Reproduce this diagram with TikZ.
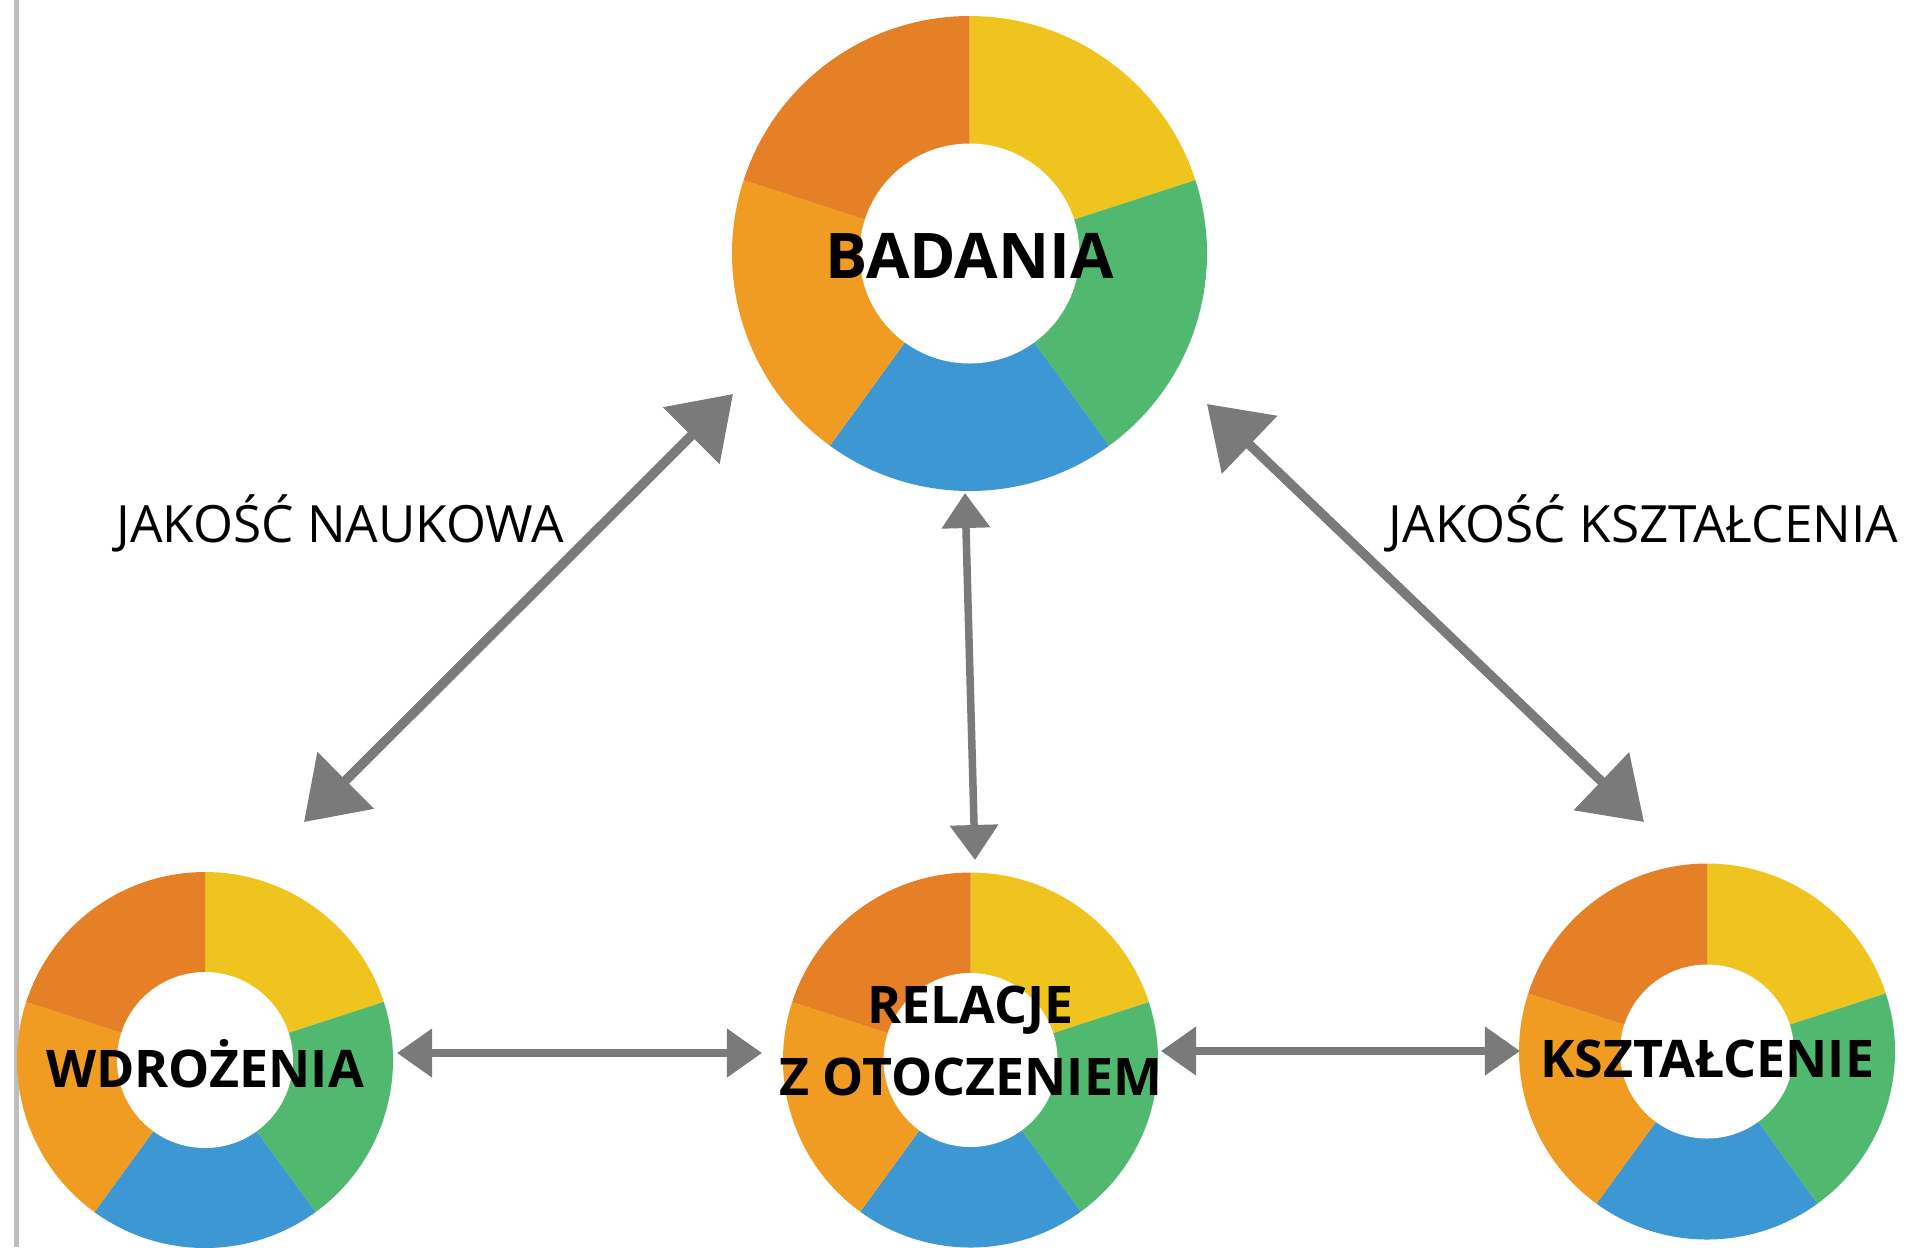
\documentclass[tikz,border=0pt]{standalone}
\usepackage{fontspec}
\setmainfont{Open Sans}
\usepackage{tikz}
\usetikzlibrary{arrows.meta}
\definecolor{segyellow}{RGB}{240,196,30}
\definecolor{seggreen}{RGB}{81,185,111}
\definecolor{segblue}{RGB}{60,151,210}
\definecolor{segorange}{RGB}{240,156,34}
\definecolor{segdark}{RGB}{230,128,38}
\definecolor{arrowgray}{RGB}{122,122,122}
\definecolor{railgray}{RGB}{190,190,190}

% ring of five equal sectors: centre, outer radius, inner radius
\newcommand{\donut}[3]{%
  \foreach \col [count=\i from 0] in {segyellow,seggreen,segblue,segorange,segdark}
    \fill[\col] #1 -- ++({90-72*\i}:#2) arc[start angle={90-72*\i},delta angle=-72,radius=#2] -- cycle;
  \fill[white] #1 circle[radius=#3];
}

\begin{document}
\begin{tikzpicture}[x=0.01cm,y=0.01cm,
    hubtxt/.style={font=\fontsize{14.75}{20.5}\selectfont\bfseries,align=center,inner sep=0},
    sidetxt/.style={font=\fontsize{14.6}{18}\selectfont,anchor=base,inner sep=0},
    biarrow/.style={arrowgray,line width=0.075cm,{Triangle[length=0.35cm,width=0.47cm]}-{Triangle[length=0.35cm,width=0.47cm]}},
    bigarrow/.style={arrowgray,line width=0.095cm,{Triangle[length=0.59cm,width=0.78cm]}-{Triangle[length=0.59cm,width=0.78cm]}}]
        \useasboundingbox (0,0) rectangle (1921,-1247);
        \draw[railgray,line width=0.05cm] (16.5,0) -- (16.5,-1247);

        \coordinate (c-bad) at (969.5,-253.5);
        \coordinate (c-wdr) at (205,-1060);
        \coordinate (c-rel) at (970.5,-1060);
        \coordinate (c-kszt) at (1707,-1051.5);
        \donut{(c-bad)}{237.5}{110}
        \donut{(c-wdr)}{188}{88}
        \donut{(c-rel)}{187.5}{87}
        \donut{(c-kszt)}{188}{87}

        \node[hubtxt,font=\fontsize{17.9}{21}\selectfont\bfseries] (bad) at ([yshift=-0.02cm]c-bad) {BADANIA};
        \node[hubtxt] (wdr) at ([yshift=-0.035cm]c-wdr) {WDROŻENIA};
        \node[hubtxt] (rel) at ([yshift=0.19cm]c-rel) {RELACJE\\Z OTOCZENIEM};
        \node[hubtxt] (kszt) at ([yshift=-0.07cm]c-kszt) {KSZTAŁCENIE};

        \node[sidetxt] (jnauk) at (340,-542) {JAKOŚĆ NAUKOWA};
        \node[sidetxt] (jkszt) at (1643.5,-542) {JAKOŚĆ KSZTAŁCENIA};

        \coordinate (nauk-a) at (304,-822);
        \coordinate (nauk-b) at (733,-394);
        \coordinate (kszt-a) at (1207,-404);
        \coordinate (kszt-b) at (1644,-822);
        \coordinate (rel-up) at (965,-493);
        \coordinate (rel-dn) at (975,-860);
        \coordinate (wdr-r) at (397,-1053);
        \coordinate (rel-l) at (762,-1053);
        \coordinate (rel-r) at (1161,-1051);
        \coordinate (kszt-l) at (1520,-1051);

        \draw[bigarrow] (nauk-a) -- (nauk-b);
        \draw[bigarrow] (kszt-a) -- (kszt-b);
        \draw[biarrow] (rel-up) -- (rel-dn);
        \draw[biarrow] (wdr-r) -- (rel-l);
        \draw[biarrow] (rel-r) -- (kszt-l);
      \end{tikzpicture}
\end{document}
